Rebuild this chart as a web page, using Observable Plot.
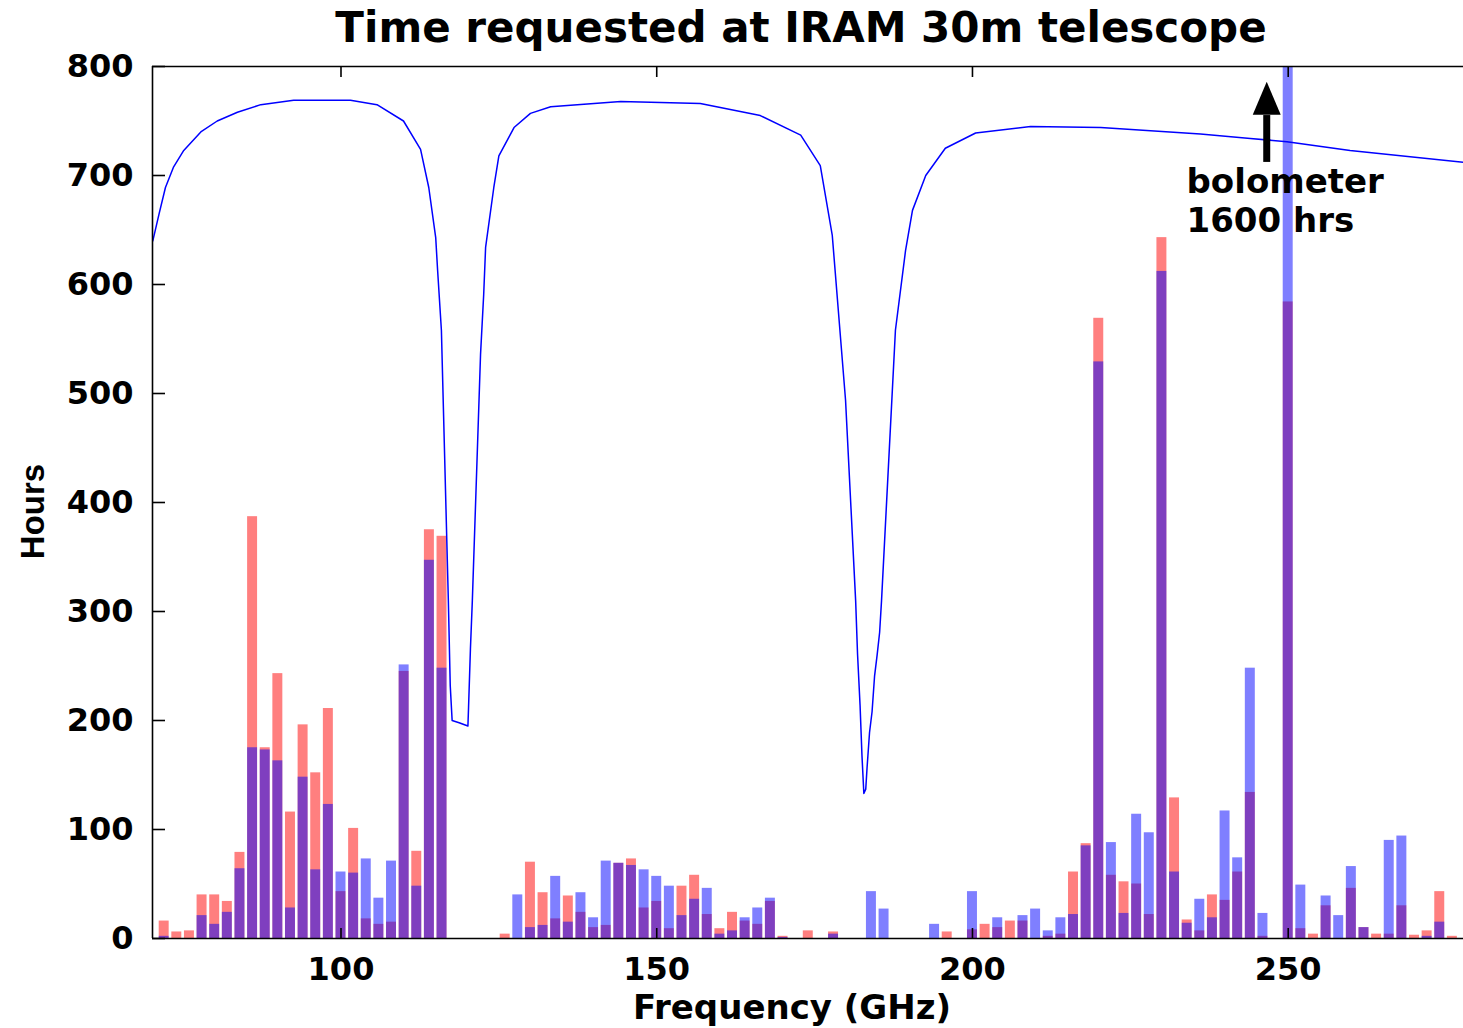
<!DOCTYPE html>
<html><head><meta charset="utf-8">
<script src="https://cdn.jsdelivr.net/npm/d3@7"></script>
<script src="https://cdn.jsdelivr.net/npm/@observablehq/plot@0.6"></script>
<style>body{margin:0;background:#fff}</style>
</head><body><div id="chart"></div>
<script>
// Frequency bins (GHz, bin centre) and requested hours for the two series
const freq = [72,74,76,78,80,82,84,86,88,90,92,94,96,98,100,102,104,106,108,110,112,114,116,
  126,128,130,132,134,136,138,140,142,144,146,148,150,152,154,156,158,160,162,164,166,168,170,174,178,
  184,186,194,196,200,202,204,206,208,210,212,214,216,218,220,222,224,226,228,230,232,234,236,238,240,242,244,246,
  250,252,254,256,258,260,262,264,266,268,270,272,274,276];
const redHours = [16,6,7,40,40,34,79,387,175,243,116,196,152,211,43,101,18,13,15,245,80,375,369,
  4,0,70,42,18,39,24,10,12,69,73,28,34,9,48,58,22,9,24,16,13,34,2,7,6,
  0,0,0,6,8,13,10,16,16,0,2,4,61,87,569,58,52,50,22,643,129,17,7,40,35,61,134,2,
  584,9,4,30,0,46,10,4,4,30,3,7,43,2];
const blueHours = [2,0,0,21,13,24,64,175,173,163,28,148,63,123,61,60,73,37,71,251,48,347,248,
  0,40,10,12,57,15,42,19,71,69,67,63,57,48,21,36,46,4,7,19,28,37,1,0,4,
  43,27,13,0,43,0,19,0,21,27,7,19,22,85,529,88,23,114,97,612,61,14,36,19,117,74,248,23,
  1600,49,0,39,21,66,10,0,90,94,0,2,15,0];

// Scaled atmospheric transmission curve
const curveFreq = [70.2,71.2,72.2,73.5,75.1,77.8,80.4,83.6,87.3,92.5,101.5,105.7,109.9,112.6,113.9,115.0,115.3,115.9,
  117.0,117.3,117.6,118.7,120.1,120.2,120.5,120.8,122.1,122.6,122.9,124.2,125.0,127.4,130.0,133.2,144.3,156.9,166.4,
  172.8,175.9,177.8,179.9,181.5,181.8,182.2,182.5,182.8,183.1,183.3,183.7,184.1,184.5,184.9,185.3,185.6,187.8,189.4,
  190.5,192.6,195.7,200.5,209.2,220.3,236.1,244.0,249.8,259.8,277.8];
const curveHours = [640,665,689,708,723,740,750,758,765,769,769,765,750,724,689,643,613,558,
  310,232,200,198,195,212,266,310,536,591,634,689,718,744,757,763,768,766,755,
  737,709,645,494,310,261,214,168,133,137,156,189,208,241,260,281,310,558,631,
  668,700,725,739,745,744,738,734,731,723,712];

const xTicks = [100,150,200,250];
const yTicks = [0,100,200,300,400,500,600,700,800];
const xDomain = [70.15,277.76];
const yDomain = [0,800];
const title = "Time requested at IRAM 30m telescope";
const xLabel = "Frequency (GHz)";
const yLabel = "Hours";
const noteLines = ["bolometer","1600 hrs"];
const noteLineHours = [684,648];
const noteTextFreq = 233.9;
const arrowFreq = 246.6, arrowTail = 712, arrowBase = 755, arrowTip = 786;

const bins = freq.map((f,i) => ({f, red: redHours[i], blue: blueHours[i]}));
const curve = curveFreq.map((f,i) => ({f, h: curveHours[i]}));
const notes = noteLines.map((t,i) => ({t, f: noteTextFreq, h: noteLineHours[i]}));
const arrow = [{f: arrowFreq, tail: arrowTail, base: arrowBase, tip: arrowTip}];

const W = 1463, H = 1028, mt = 66, ml = 152, mr = 0, mb = 90;
const fw = W - ml - mr, fh = H - mt - mb;
const halfW = 0.79;
const head = {draw(ctx){ ctx.moveTo(0,0); ctx.lineTo(14,33); ctx.lineTo(-14,33); ctx.closePath(); }};

const chart = Plot.plot({
  width: W, height: H, marginTop: mt, marginLeft: ml, marginRight: mr, marginBottom: mb,
  style: {fontFamily: "DejaVu Sans", fontWeight: "bold", background: "white", color: "black"},
  x: {domain: xDomain, label: null, axis: null},
  y: {domain: yDomain, label: null, axis: null},
  marks: [
    Plot.rectY(bins, {x1: d => d.f - halfW, x2: d => d.f + halfW, y: "red", fill: "#ff0000", fillOpacity: 0.5, clip: true}),
    Plot.rectY(bins, {x1: d => d.f - halfW, x2: d => d.f + halfW, y: "blue", fill: "#0000ff", fillOpacity: 0.5, clip: true}),
    Plot.line(curve, {x: "f", y: "h", stroke: "#0000ff", strokeWidth: 1.5}),
    Plot.ruleY([yDomain[0], yDomain[1]], {stroke: "black", strokeWidth: 1.6}),
    Plot.ruleX([xDomain[0]], {stroke: "black", strokeWidth: 1.6}),
    Plot.tickX(xTicks, {x: d => d, insetTop: fh - 10, stroke: "black", strokeWidth: 1.6}),
    Plot.tickX(xTicks, {x: d => d, insetBottom: fh - 11, stroke: "black", strokeWidth: 1.6}),
    Plot.tickY(yTicks, {y: d => d, insetRight: fw - 13, stroke: "black", strokeWidth: 1.6}),
    Plot.axisX({ticks: xTicks, tickSize: 0, tickPadding: 19, fontSize: 32, fontWeight: "bold", label: null}),
    Plot.axisY({ticks: yTicks, tickSize: 0, tickPadding: 19, fontSize: 32, fontWeight: "bold", label: null}),
    Plot.ruleX(arrow, {x: "f", y1: "tail", y2: "base", stroke: "black", strokeWidth: 7}),
    Plot.dot(arrow, {x: "f", y: "tip", symbol: head, r: 10, fill: "black", stroke: "none"}),
    Plot.text(notes, {x: "f", y: "h", text: "t", textAnchor: "start", lineAnchor: "bottom", fontSize: 34, fontWeight: "bold", fill: "black"}),
    Plot.text([title], {frameAnchor: "top", dx: -7, dy: -25, lineAnchor: "bottom", fontSize: 42, fontWeight: "bold", fill: "black"}),
    Plot.text([xLabel], {frameAnchor: "bottom", dx: -16, dy: 80, lineAnchor: "bottom", fontSize: 34, fontWeight: "bold", fill: "black"}),
    Plot.text([yLabel], {frameAnchor: "left", textAnchor: "middle", rotate: -90, dx: -109, dy: 9, lineAnchor: "bottom", fontFamily: "Liberation Sans", fontSize: 33, fontWeight: "bold", fill: "black"})
  ]
});
document.getElementById("chart").appendChild(chart);
</script>
</body></html>
